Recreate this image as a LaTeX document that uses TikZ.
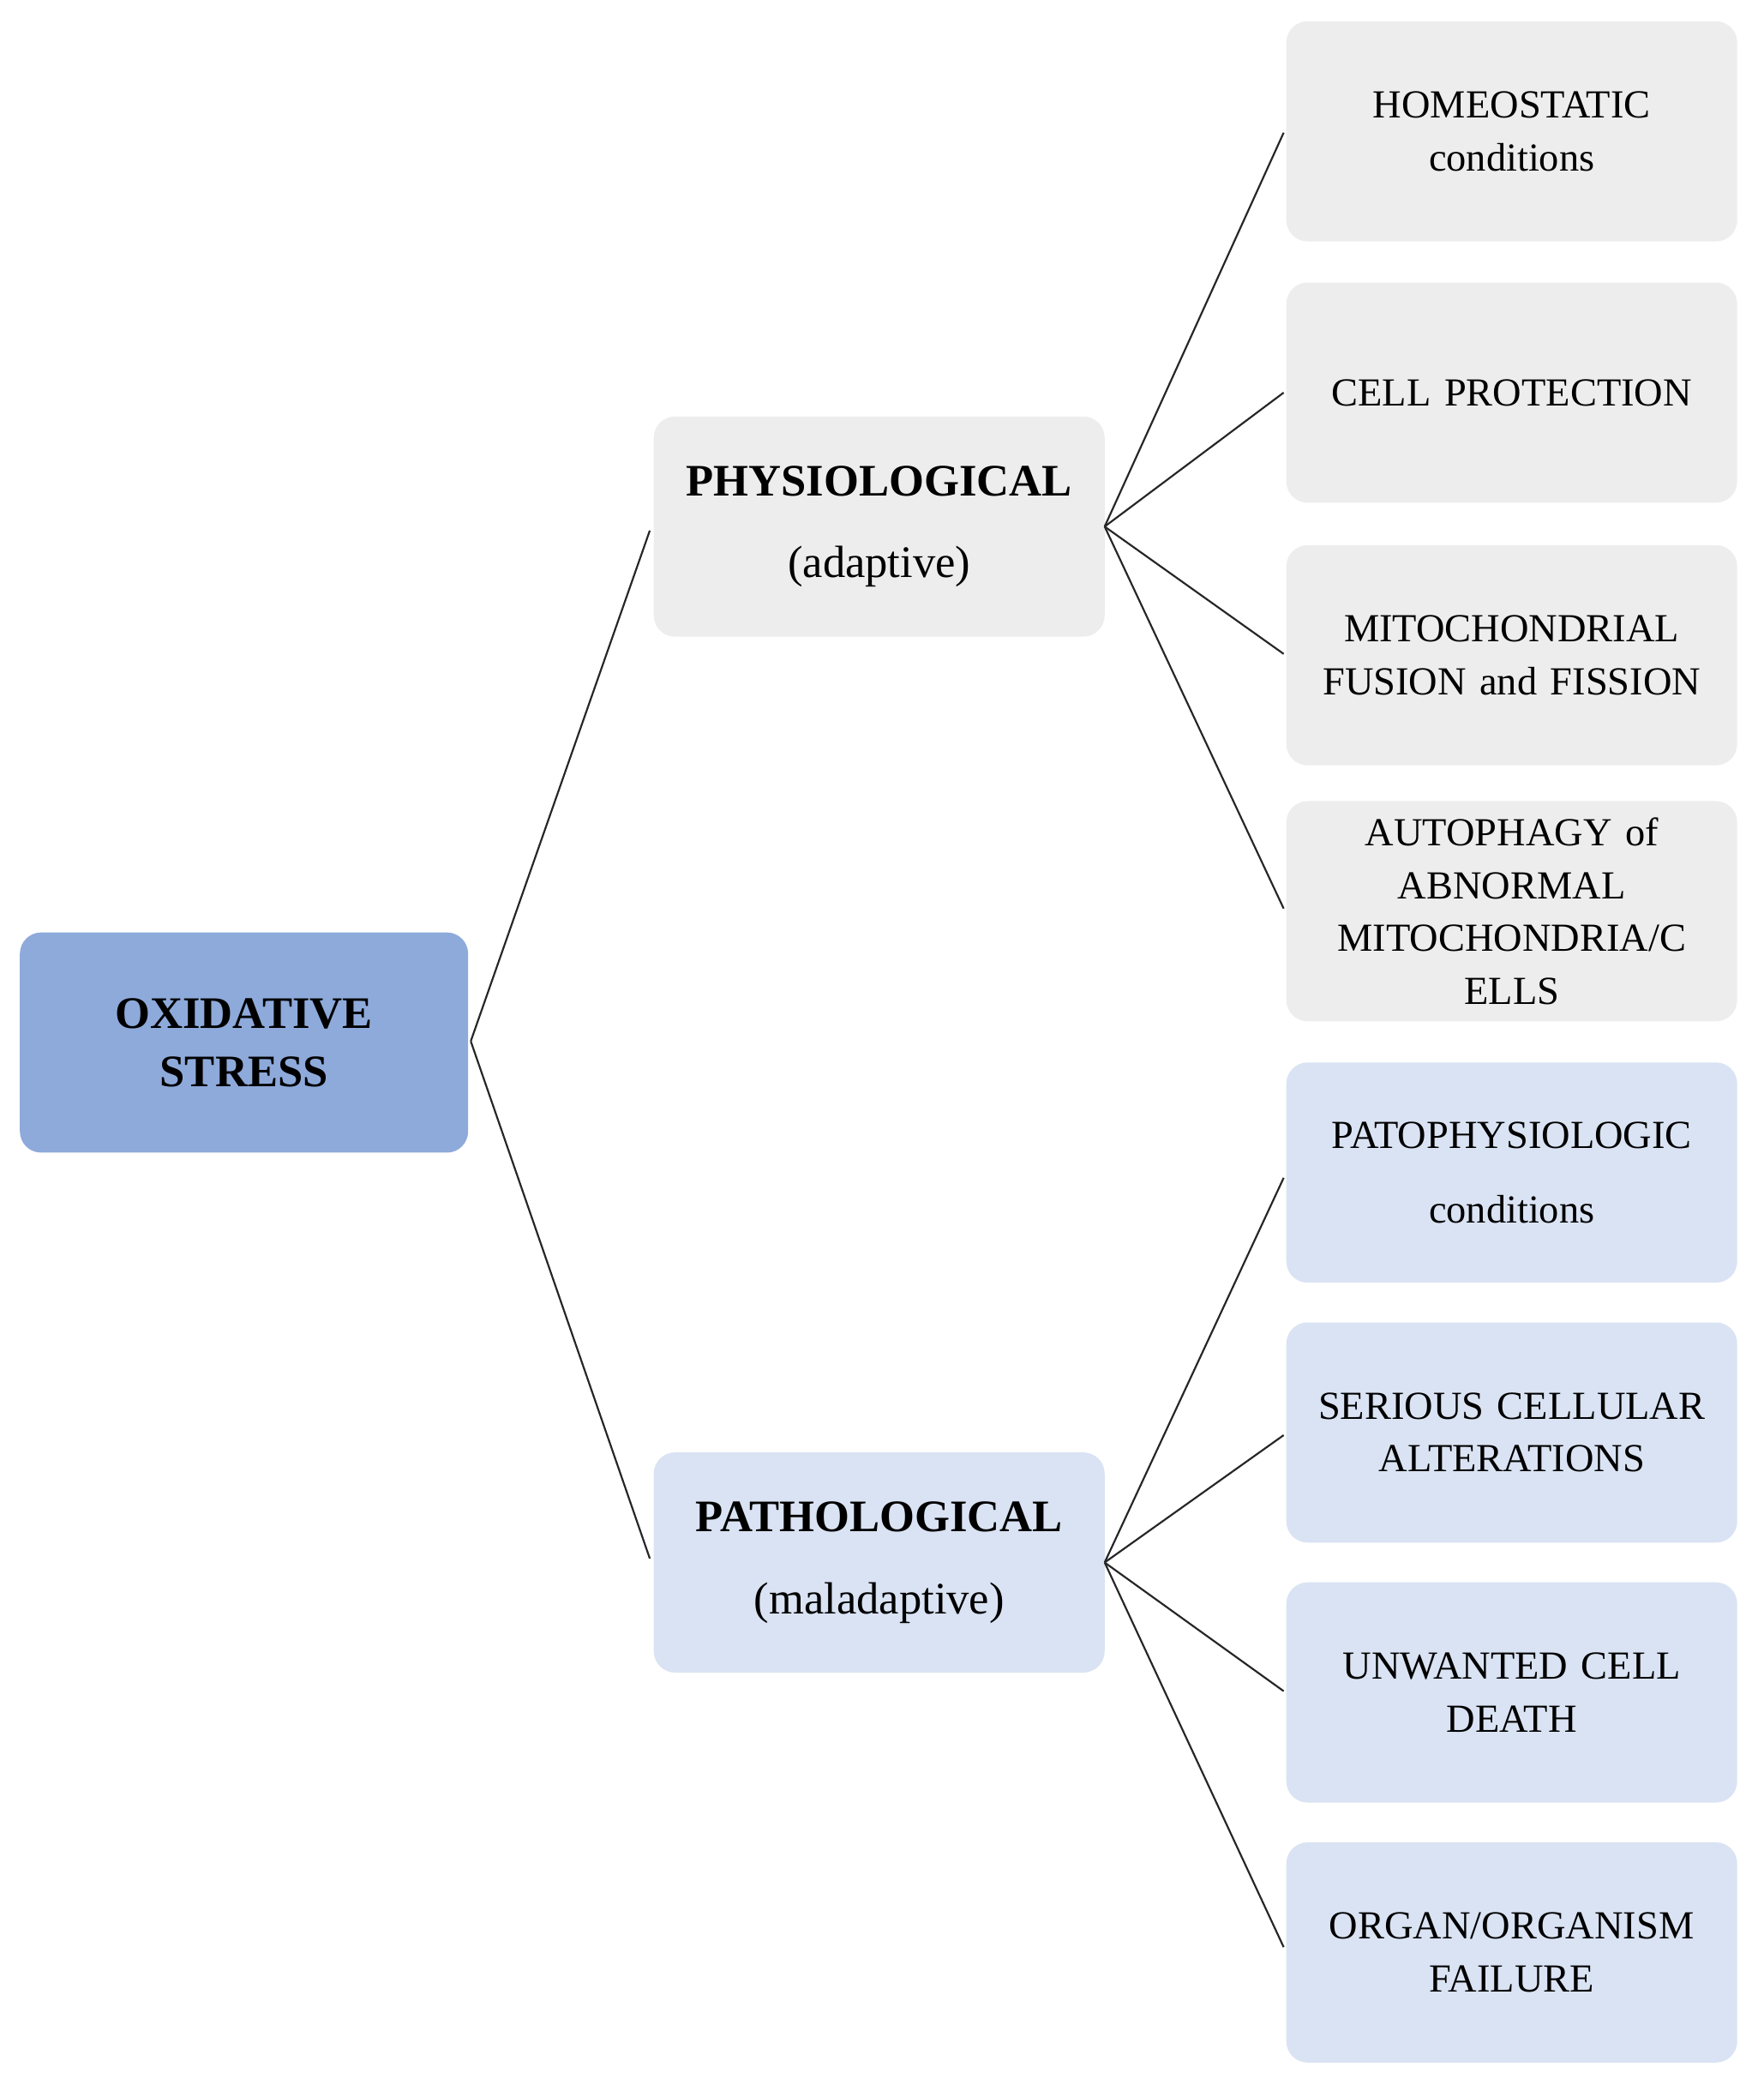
\documentclass[tikz,border=0pt]{standalone}
\usepackage{fontspec}
\setmainfont{Liberation Serif}
\begin{document}
\begin{tikzpicture}[x=0.5pt,y=-0.5pt,
  box/.style={draw=none,rounded corners=8pt,minimum width=168pt,minimum height=83pt,inner sep=2pt,align=center,text width=166pt,font=\fontsize{15}{20}\selectfont},
  gray/.style={box,fill=gray!14},
  blue/.style={box,fill=blue!30!cyan!10!gray!15},
  pb/.style={fill={rgb,255:red,218;green,227;blue,243}},
  ln/.style={draw=black!85,line width=0.7pt}]
\useasboundingbox (0,0) rectangle (1330,1581);
\node[box,fill={rgb,255:red,142;green,170;blue,219},minimum width=169pt,text width=160pt,font=\bfseries\fontsize{17}{22}\selectfont] (ox) at (184,786) {OXIDATIVE\\STRESS};
\node[box,fill=gray!14,font=\fontsize{17}{31}\selectfont] (ph) at (663,397) {\textbf{PHYSIOLOGICAL}\\(adaptive)};
\node[box,pb,font=\fontsize{17}{31}\selectfont] (pa) at (663,1178) {\textbf{PATHOLOGICAL}\\(maladaptive)};
\node[box,fill=gray!14] (r1) at (1140,99) {HOMEOSTATIC\\conditions};
\node[box,fill=gray!14] (r2) at (1140,296) {CELL PROTECTION};
\node[box,fill=gray!14] (r3) at (1140,494) {MITOCHONDRIAL\\FUSION and FISSION};
\node[box,fill=gray!14] (r4) at (1140,687) {AUTOPHAGY of\\ABNORMAL\\MITOCHONDRIA/C\\ELLS};
\node[box,pb,font=\fontsize{15}{28}\selectfont] (r5) at (1140,884) {PATOPHYSIOLOGIC\\conditions};
\node[box,pb] (r6) at (1140,1080) {SERIOUS CELLULAR\\ALTERATIONS};
\node[box,pb] (r7) at (1140,1276) {UNWANTED CELL\\DEATH};
\node[box,pb] (r8) at (1140,1472) {ORGAN/ORGANISM\\FAILURE};
\coordinate (o) at (355,785);
\coordinate (p) at (833,397);
\coordinate (q) at (833,1178);
\draw[ln] (o) -- (490,400);
\draw[ln] (o) -- (490,1175);
\foreach \n/\y in {r1/100,r2/296,r3/493,r4/685} \draw[ln] (p) -- (968,\y);
\foreach \n/\y in {r5/888,r6/1082,r7/1275,r8/1468} \draw[ln] (q) -- (968,\y);
\end{tikzpicture}
\end{document}
